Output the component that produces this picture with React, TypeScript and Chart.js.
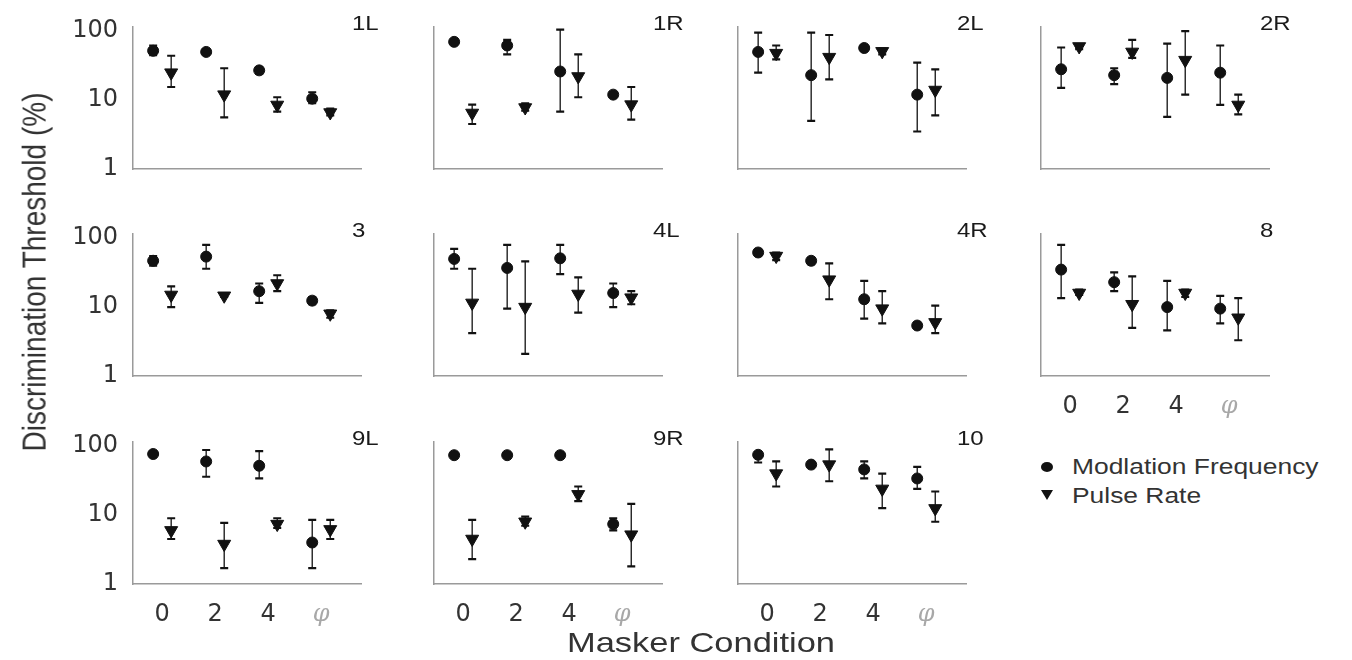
import React, { useEffect, useRef } from 'react';
import { Chart, registerables } from 'chart.js';

Chart.register(...registerables);

// ---------- data ----------
const panels = ['1L', '1R', '2L', '2R', '3', '4L', '4R', '8', '9L', '9R', '10'];
const categories = ['0', '2', '4', 'φ'];
const yTickValues = [1, 10, 100];

// Modulation frequency (circle): mean, lower, upper (per panel, per masker condition)
const mfMean = [
  [52, 50, 27, 10.5],
  [70, 62, 26, 12],
  [50, 23, 57, 12],
  [28, 23, 21, 25],
  [47, 54, 17, 12.4],
  [50, 37, 51, 16],
  [62, 47, 13, 5.4],
  [35, 23, 10, 9.5],
  [77, 60, 52, 4],
  [74, 74, 74, 7.4],
  [75, 54, 46, 34],
];
const mfLow = [
  [45, 46, 24, 9],
  [65, 46, 6.8, 11],
  [25, 5, 52, 3.5],
  [15, 17, 5.7, 8.5],
  [40, 36, 11.5, 11],
  [36, 9.5, 30, 10],
  [56, 42, 6.8, 5],
  [13.5, 17, 4.6, 5.8],
  [74, 36, 34, 1.7],
  [70, 70, 70, 6],
  [58, 52, 34, 24],
];
const mfHigh = [
  [62, 54, 30, 13],
  [75, 75, 105, 13],
  [95, 95, 60, 35],
  [58, 29, 66, 62],
  [55, 80, 22, 14],
  [70, 80, 80, 22],
  [68, 52, 24, 6],
  [80, 32, 24, 14.5],
  [80, 88, 85, 8.5],
  [77, 77, 77, 9],
  [82, 56, 60, 50],
];

// Pulse rate (down triangle): mean, lower, upper
const prMean = [
  [25, 12, 8.5, 6.6],
  [6.5, 7.8, 22, 8.6],
  [48, 42, 51, 14],
  [60, 50, 38, 8.5],
  [15, 14.6, 22, 8],
  [11.5, 10, 15.5, 13.7],
  [55, 25, 9.5, 6],
  [16, 11, 16, 7],
  [6, 3.8, 7.4, 6.2],
  [4.5, 8, 20, 5.2],
  [40, 54, 24, 12.5],
];
const prLow = [
  [15.5, 5.6, 6.8, 6],
  [4.5, 7, 11, 5.2],
  [39, 20, 46, 6],
  [55, 41, 12, 6.2],
  [10, 14, 17, 7],
  [4.2, 2.1, 8.3, 11],
  [48, 13, 5.8, 4.2],
  [15, 5, 14, 3.3],
  [4.5, 1.7, 6.5, 4.5],
  [2.3, 7, 16, 1.8],
  [26, 31, 12.6, 8],
];
const prHigh = [
  [44, 29, 11, 7.5],
  [8.6, 9, 46, 15.5],
  [62, 88, 56, 28],
  [65, 75, 100, 12],
  [20, 15.5, 29, 9],
  [36, 46, 27, 17],
  [62, 43, 17, 10.5],
  [18, 28, 18, 13.5],
  [9, 7.7, 9, 8.5],
  [8.5, 9.5, 26, 14.5],
  [60, 90, 40, 22],
];

// ---------- layout ----------
const PLOT_LEFT = [133, 434, 738, 1041];
const PLOT_TOP = [27, 234, 442];
const PLOT_W = 228;
const PLOT_H = 142;
const PAD_L = 100;
const PAD_T = 40;
const PAD_R = 20;
const PAD_B = 50;
const OFFSET = 0.17;
const INK = '#111';
const AXIS = '#9a9a9a';
const SANS = '"Liberation Sans", Arial, sans-serif';

const errorBars = {
  id: 'errorBars',
  beforeDatasetsDraw(chart: any) {
    const { ctx } = chart;
    const xs = chart.scales.x;
    const ys = chart.scales.y;
    ctx.save();
    ctx.strokeStyle = INK;
    chart.data.datasets.forEach((ds: any) => {
      const lo = ds.errLo;
      const hi = ds.errHi;
      if (!lo || !hi) return;
      ds.data.forEach((p: any, k: number) => {
        const px = xs.getPixelForValue(p.x);
        const yl = ys.getPixelForValue(lo[k]);
        const yh = ys.getPixelForValue(hi[k]);
        ctx.lineWidth = 1.3;
        ctx.beginPath();
        ctx.moveTo(px, yl);
        ctx.lineTo(px, yh);
        ctx.stroke();
        ctx.lineWidth = 2.2;
        ctx.beginPath();
        ctx.moveTo(px - 4, yl);
        ctx.lineTo(px + 4, yl);
        ctx.moveTo(px - 4, yh);
        ctx.lineTo(px + 4, yh);
        ctx.stroke();
      });
    });
    ctx.restore();
  },
};

function Panel({ index }: { index: number }) {
  const ref = useRef<HTMLCanvasElement | null>(null);
  const row = Math.floor(index / 4);
  const col = index % 4;
  const showY = col === 0;
  const showX = row === 2 || index === 7;
  const width = PAD_L + PLOT_W + PAD_R;
  const height = PAD_T + PLOT_H + PAD_B;

  useEffect(() => {
    if (!ref.current) return;
    const chart = new Chart(ref.current, {
      type: 'scatter',
      data: {
        datasets: [
          {
            label: 'Modlation Frequency',
            data: mfMean[index].map((v, k) => ({ x: k - OFFSET, y: v })),
            errLo: mfLow[index],
            errHi: mfHigh[index],
            pointStyle: 'circle',
            pointRadius: 5.5,
            backgroundColor: INK,
            borderColor: INK,
            borderWidth: 1,
          } as any,
          {
            label: 'Pulse Rate',
            data: prMean[index].map((v, k) => ({ x: k + OFFSET, y: v })),
            errLo: prLow[index],
            errHi: prHigh[index],
            pointStyle: 'triangle',
            pointRotation: 180,
            pointRadius: 7.5,
            backgroundColor: INK,
            borderColor: INK,
            borderWidth: 1,
          } as any,
        ],
      },
      options: {
        animation: false,
        responsive: false,
        events: [],
        layout: { padding: { left: 0, top: PAD_T, right: PAD_R, bottom: 0 } },
        plugins: { legend: { display: false }, tooltip: { enabled: false } },
        scales: {
          x: {
            type: 'linear',
            min: -0.55,
            max: 3.75,
            grid: { display: false, drawTicks: false },
            border: { display: true, color: AXIS, width: 1.5 },
            afterBuildTicks: (s: any) => {
              s.ticks = categories.map((_, k) => ({ value: k }));
            },
            afterFit: (s: any) => {
              s.height = PAD_B;
            },
            ticks: {
              display: showX,
              padding: 16,
              autoSkip: false,
              maxRotation: 0,
              callback: (v: any) => categories[Math.round(Number(v))],
              font: (c: any) =>
                c.index === 3
                  ? { family: '"DejaVu Serif", serif', style: 'italic', size: 24 }
                  : { family: '"DejaVu Sans", sans-serif', size: 24 },
              color: (c: any) => (c.index === 3 ? '#a8a8a8' : '#333'),
            },
          },
          y: {
            type: 'logarithmic',
            min: 1,
            max: 115,
            grid: { display: false, drawTicks: false },
            border: { display: true, color: AXIS, width: 1.5 },
            afterBuildTicks: (s: any) => {
              s.ticks = yTickValues.map((v) => ({ value: v }));
            },
            afterFit: (s: any) => {
              s.width = PAD_L;
            },
            ticks: {
              display: showY,
              padding: 15,
              autoSkip: false,
              callback: (v: any) => String(v),
              font: { family: '"DejaVu Sans", sans-serif', size: 24 },
              color: '#333',
            },
          },
        },
      } as any,
      plugins: [errorBars as any],
    });
    return () => chart.destroy();
  }, [index]);

  return (
    <canvas
      ref={ref}
      width={width}
      height={height}
      style={{
        position: 'absolute',
        left: PLOT_LEFT[col] - PAD_L,
        top: PLOT_TOP[row] - PAD_T,
        width,
        height,
      }}
    />
  );
}

function PanelLabel({ index }: { index: number }) {
  const row = Math.floor(index / 4);
  const col = index % 4;
  return (
    <div
      style={{
        position: 'absolute',
        left: PLOT_LEFT[col] + PLOT_W - 9,
        top: PLOT_TOP[row] - 4 - 11,
        height: 22,
        lineHeight: '22px',
        fontSize: 20,
        fontFamily: SANS,
        color: '#1a1a1a',
        whiteSpace: 'nowrap',
        transform: 'scaleX(1.2)',
        transformOrigin: 'left center',
      }}
    >
      {panels[index]}
    </div>
  );
}

export default function App() {
  return (
    <div
      style={{
        position: 'absolute',
        left: 0,
        top: 0,
        width: 1352,
        height: 660,
        background: '#fff',
        overflow: 'hidden',
        fontFamily: SANS,
      }}
    >
      {panels.map((p, i) => (
        <Panel key={p} index={i} />
      ))}
      {panels.map((p, i) => (
        <PanelLabel key={'l' + p} index={i} />
      ))}
      <div
        style={{
          position: 'absolute',
          left: 35 - 220,
          top: 272 - 17,
          width: 440,
          height: 34,
          lineHeight: '34px',
          textAlign: 'center',
          fontSize: 28,
          color: '#333',
          whiteSpace: 'nowrap',
          transform: 'rotate(-90deg) scaleY(1.2)',
          transformOrigin: 'center center',
        }}
      >
        Discrimination Threshold (%)
      </div>
      <div
        style={{
          position: 'absolute',
          left: 701 - 200,
          top: 643 - 14,
          width: 400,
          height: 28,
          lineHeight: '28px',
          textAlign: 'center',
          fontSize: 28,
          color: '#333',
          whiteSpace: 'nowrap',
          transform: 'scaleX(1.23)',
          transformOrigin: 'center center',
        }}
      >
        Masker Condition
      </div>
      {/* legend */}
      <div
        style={{
          position: 'absolute',
          left: 1041,
          top: 462,
          width: 12,
          height: 10,
          borderRadius: '50%',
          background: INK,
        }}
      />
      <div
        style={{
          position: 'absolute',
          left: 1072,
          top: 467 - 12,
          height: 24,
          lineHeight: '24px',
          fontSize: 22,
          color: '#333',
          whiteSpace: 'nowrap',
          transform: 'scaleX(1.2)',
          transformOrigin: 'left center',
        }}
      >
        Modlation Frequency
      </div>
      <div
        style={{
          position: 'absolute',
          left: 1041,
          top: 490,
          width: 0,
          height: 0,
          borderLeft: '6px solid transparent',
          borderRight: '6px solid transparent',
          borderTop: '10px solid ' + INK,
        }}
      />
      <div
        style={{
          position: 'absolute',
          left: 1072,
          top: 496 - 12,
          height: 24,
          lineHeight: '24px',
          fontSize: 22,
          color: '#333',
          whiteSpace: 'nowrap',
          transform: 'scaleX(1.2)',
          transformOrigin: 'left center',
        }}
      >
        Pulse Rate
      </div>
    </div>
  );
}
